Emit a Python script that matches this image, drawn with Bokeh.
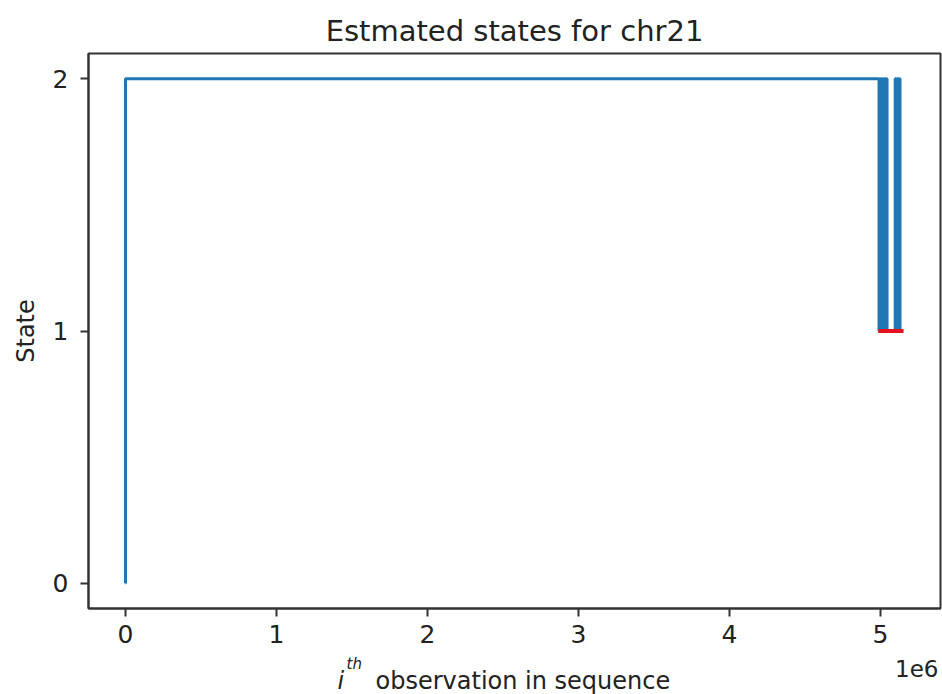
from bokeh.plotting import figure
from bokeh.models import FixedTicker, Range1d, Label
from bokeh.layouts import column
from bokeh.embed import file_html
from bokeh.resources import INLINE

# ---- data ----
# positions where the estimated state changes, and the state from there on
change_x = [0, 1, 4990000, 4996000, 5002000, 5008000, 5014000, 5020000,
            5026000, 5032000, 5043000, 5097000, 5104000, 5111000, 5118000,
            5124000, 5129000, 5150000]
change_state = [0, 2, 1, 2, 1, 2, 1, 2, 1, 2, 1, 2, 1, 2, 1, 2, 1, 1]

# red highlight at state 1
red_x = [4985000, 5152000]
red_y = [1, 1]

x_ticks = [0, 1000000, 2000000, 3000000, 4000000, 5000000]
x_tick_labels = ["0", "1", "2", "3", "4", "5"]
y_ticks = [0, 1, 2]
y_tick_labels = ["0", "1", "2"]

TITLE = "Estmated states for chr21"
X_LABEL_I = "i"
X_LABEL_SUP = "th"
X_LABEL_REST = "observation in sequence"
X_SCALE_NOTE = "1e6"
Y_LABEL = "State"

FONT = "DejaVu Sans"
TXT = "#222222"

W, H = 942, 694
HM = 652                      # height of the main figure; the rest holds the x label
FL, FR, FT, FB = 88, 940, 53, 608
X0, X1 = -0.245e6, 5.397e6
Y0, Y1 = -0.1, 2.1

xr = Range1d(X0, X1)
p = figure(width=W, height=HM, output_backend="svg", toolbar_location=None,
           x_range=xr, y_range=Range1d(Y0, Y1),
           min_border_left=FL, min_border_right=W - FR,
           min_border_top=FT, min_border_bottom=HM - FB)
p.grid.visible = False
p.background_fill_color = "white"
p.border_fill_color = "white"
p.outline_line_color = "#333333"
p.outline_line_width = 2

p.title.text = TITLE
p.title.text_font = FONT
p.title.text_font_size = "29px"
p.title.text_font_style = "normal"
p.title.text_color = TXT
p.title.align = "center"
p.title.standoff = 12

p.step(change_x, change_state, mode="after", line_color="#1f77b4", line_width=3)
p.line(red_x, red_y, line_color="#e8111e", line_width=4)

for ax in (p.xaxis[0], p.yaxis[0]):
    ax.axis_line_color = "#333333"
    ax.axis_line_width = 2
    ax.major_tick_line_color = "#333333"
    ax.major_tick_line_width = 2
    ax.major_tick_out = 8
    ax.major_tick_in = 0
    ax.minor_tick_line_color = None
    ax.major_label_text_font = FONT
    ax.major_label_text_font_size = "25px"
    ax.major_label_text_color = TXT

p.xaxis.ticker = FixedTicker(ticks=x_ticks)
p.xaxis.major_label_overrides = {t: l for t, l in zip(x_ticks, x_tick_labels)}
p.xaxis.major_label_standoff = 8
p.yaxis.ticker = FixedTicker(ticks=y_ticks)
p.yaxis.major_label_overrides = {t: l for t, l in zip(y_ticks, y_tick_labels)}
p.yaxis.major_label_standoff = 12
p.yaxis.axis_label = Y_LABEL
p.yaxis.axis_label_text_font = FONT
p.yaxis.axis_label_text_font_size = "24px"
p.yaxis.axis_label_text_font_style = "normal"
p.yaxis.axis_label_text_color = TXT
p.yaxis.axis_label_standoff = 10

# strip under the main figure for the x-axis label; same x scale as the plot,
# y measured in pixels up from the bottom of the page
HB = H - HM
q = figure(width=W, height=HB, output_backend="svg", toolbar_location=None,
           x_range=xr, y_range=Range1d(0, HB),
           x_axis_type=None, y_axis_type=None,
           min_border_left=FL, min_border_right=W - FR,
           min_border_top=0, min_border_bottom=0)
q.grid.visible = False
q.outline_line_color = None
q.background_fill_color = "white"
q.border_fill_color = "white"

DY = 7   # measured correction of the strip's vertical placement


def sx(px):
    return X0 + (px - FL) / (FR - FL) * (X1 - X0)


def add_text(text, px, py, size, align="left", style="normal"):
    q.add_layout(Label(x=sx(px), y=H - py + DY, text=text, text_font=FONT,
                       text_font_size=size, text_align=align,
                       text_baseline="alphabetic", text_color=TXT,
                       text_font_style=style))


add_text(X_LABEL_I, 337, 687, "24px", style="italic")
add_text(X_LABEL_SUP, 346, 670, "15px", style="italic")
add_text(X_LABEL_REST, 375, 687, "24px")
add_text(X_SCALE_NOTE, 938, 675, "23px", align="right")

layout = column(p, q, spacing=0)
open("out.html", "w").write(file_html(layout, INLINE))
